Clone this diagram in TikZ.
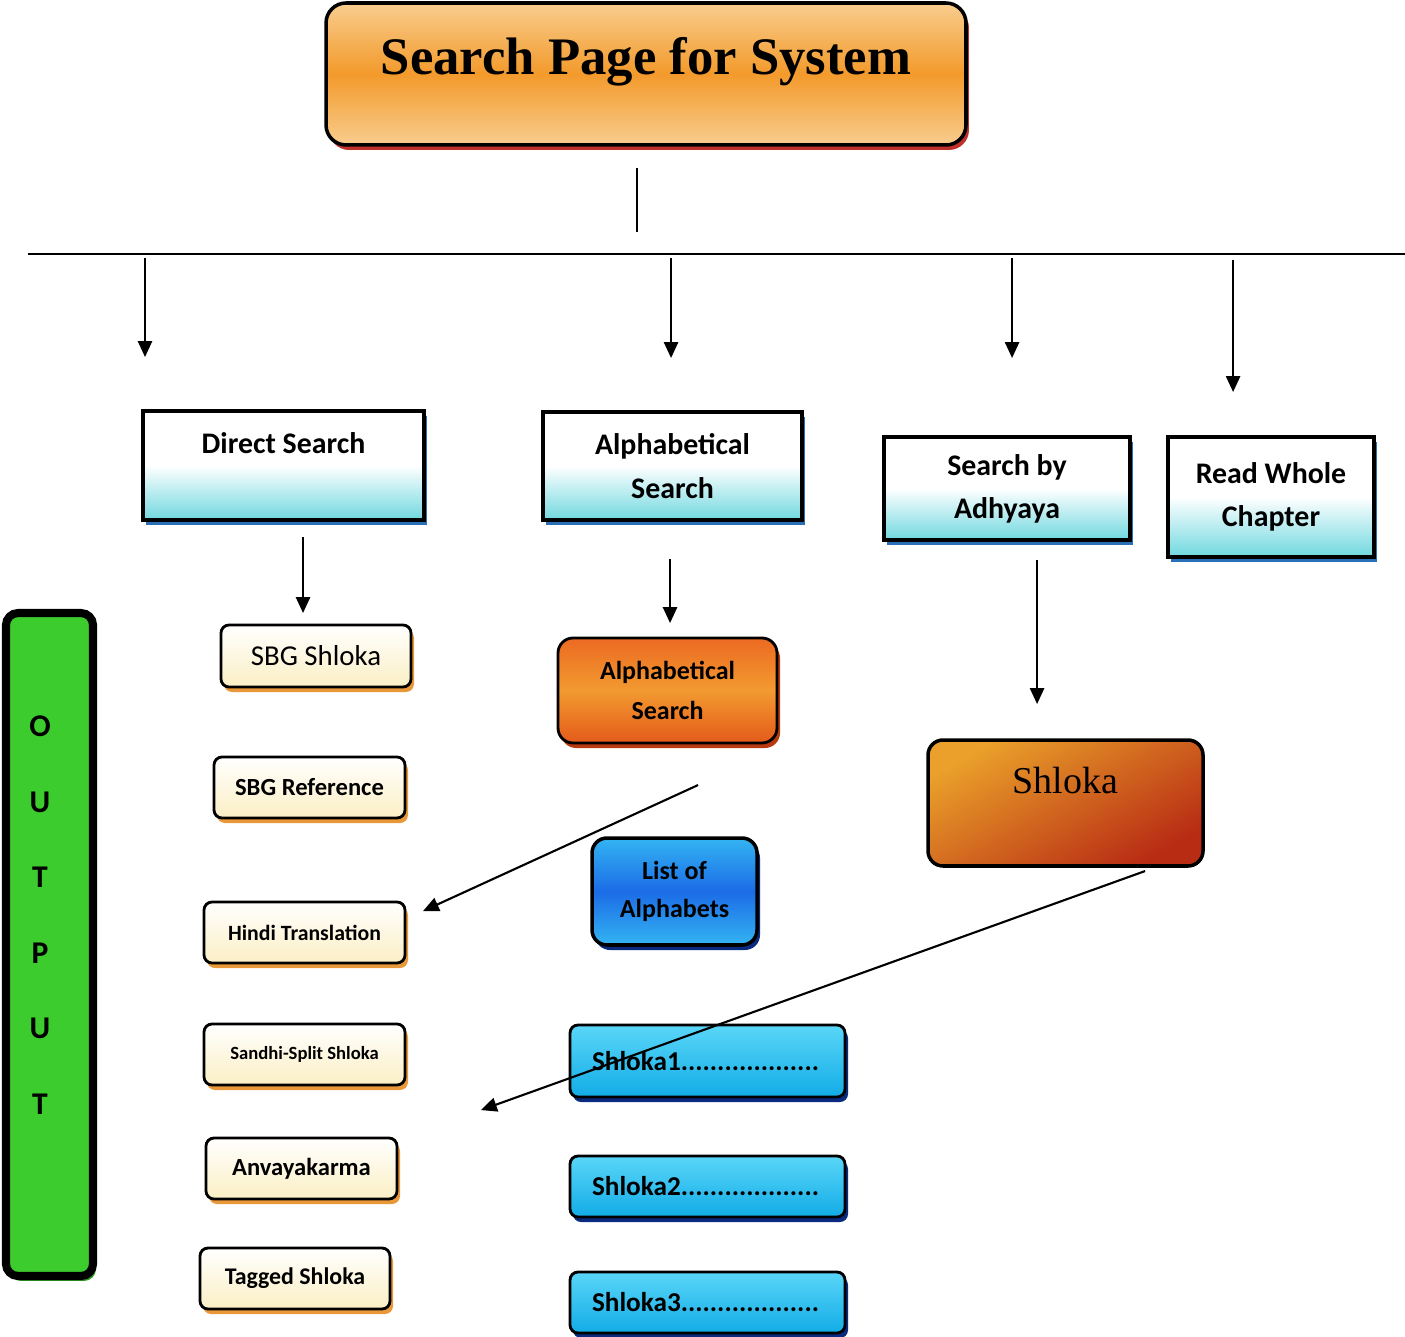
\documentclass[tikz,border=0pt]{standalone}
\usepackage{fontspec}
\setmainfont{Carlito}
\newfontfamily\serifttl{Liberation Serif}
\usetikzlibrary{arrows.meta,shadows}
\definecolor{ttllight}{HTML}{F8CD8E}
\definecolor{ttlmid}{HTML}{F39A2B}
\definecolor{ttlshadow}{HTML}{C0302A}
\definecolor{boxcyan}{HTML}{6FD8DF}
\definecolor{cyanshadow}{HTML}{2A70B8}
\definecolor{cream}{HTML}{FBEFC4}
\definecolor{creamshadow}{HTML}{E89838}
\definecolor{orgtop}{HTML}{EC6A22}
\definecolor{orgmid}{HTML}{F29A30}
\definecolor{orgbot}{HTML}{E45A1A}
\definecolor{orgshadow}{HTML}{B83A10}
\definecolor{bluetop}{HTML}{33B4F2}
\definecolor{bluemid}{HTML}{1C6CE6}
\definecolor{blueshadow}{HTML}{0A2A80}
\definecolor{slktop}{HTML}{EAA02A}
\definecolor{slkbot}{HTML}{B82C14}
\definecolor{skytop}{HTML}{5AD6F8}
\definecolor{skybot}{HTML}{12ACE6}
\definecolor{outgreen}{HTML}{3DCC2E}
\definecolor{outshadow}{HTML}{2A9A20}

\begin{document}
\begin{tikzpicture}[scale=0.1]
\tikzstyle{every node}+=[inner sep=0pt, outer sep=0pt, align=center]
\tikzstyle{arr}=[black, line width=0.6pt, -{Triangle[length=4.5pt,width=4pt]}]
\tikzstyle{shad}=[opacity=1, shadow xshift=0.3mm, shadow yshift=-0.5mm]
\tikzstyle{titlebox}=[draw=black, line width=1pt, rounded corners=2mm, top color=ttllight, bottom color=ttllight, middle color=ttlmid, drop shadow={shad, fill=ttlshadow}, font=\serifttl\bfseries\fontsize{15}{18}\selectfont]
\tikzstyle{searchbox}=[draw=black, line width=0.9pt, top color=white, bottom color=boxcyan, middle color=white, drop shadow={shad, fill=cyanshadow}, font=\bfseries\fontsize{8.5}{12.3}\selectfont]
\tikzstyle{outbox}=[draw=black, line width=0.8pt, rounded corners=0.8mm, top color=white, bottom color=cream, drop shadow={shad, fill=creamshadow}, font=\bfseries]
\tikzstyle{skybox}=[draw=black, line width=0.8pt, rounded corners=0.8mm, top color=skytop, bottom color=skybot, drop shadow={shad, fill=blueshadow}, minimum width=27.5mm, font=\bfseries\fontsize{7.75}{9}\selectfont, text width=23.1mm, align=left]
\useasboundingbox (0,0) rectangle (140.5,-133.6);
\node [titlebox, minimum width=64mm, minimum height=14.2mm, text height=7.2mm, text depth=7mm] (title) at (64.6,-7.4) {Search Page for System};
\coordinate (stemtop) at (63.7,-16.8);
\coordinate (stembot) at (63.7,-23.2);
\coordinate (busleft) at (2.8,-25.4);
\coordinate (busright) at (140.5,-25.4);
\draw [black, line width=0.6pt] (stemtop) -- (stembot);
\draw [black, line width=0.6pt] (busleft) -- (busright);
\node [searchbox, minimum width=28.1mm, minimum height=10.9mm, text height=3.2mm, text depth=5.7mm] (direct) at (28.35,-46.55) {Direct Search};
\node [searchbox, minimum width=25.9mm, minimum height=10.8mm] (alpha) at (67.25,-46.6) {Alphabetical\\Search};
\node [searchbox, minimum width=24.6mm, minimum height=10.3mm] (adhyaya) at (100.7,-48.85) {Search by\\Adhyaya};
\node [searchbox, minimum width=20.6mm, minimum height=12mm] (chapter) at (127.1,-49.7) {Read Whole\\Chapter};
\coordinate (d1) at (14.5,-25.8);
\coordinate (d2) at (14.5,-35.7);
\coordinate (a1) at (67.1,-25.8);
\coordinate (a2) at (67.1,-35.8);
\coordinate (s1) at (101.2,-25.8);
\coordinate (s2) at (101.2,-35.8);
\coordinate (r1) at (123.3,-26.0);
\coordinate (r2) at (123.3,-39.2);
\draw [arr] (d1) -- (d2);
\draw [arr] (a1) -- (a2);
\draw [arr] (s1) -- (s2);
\draw [arr] (r1) -- (r2);
\node [draw=black, line width=2.3pt, rounded corners=1.2mm, fill=outgreen, drop shadow={shad, fill=outshadow}, minimum width=8.7mm, minimum height=66.3mm] (output) at (4.95,-94.45) {};
\node [font=\bfseries\fontsize{9}{21.5}\selectfont] (outtext) at (4.0,-91.5) {O\\U\\T\\P\\U\\T};
\node [outbox, minimum width=19mm, minimum height=6.2mm, font=\fontsize{8.2}{10}\selectfont] (sbgshloka) at (31.6,-65.6) {SBG Shloka};
\node [outbox, minimum width=19.1mm, minimum height=6.1mm, font=\bfseries\fontsize{7}{9}\selectfont] (sbgref) at (30.95,-78.75) {SBG Reference};
\node [outbox, minimum width=20.1mm, minimum height=6.1mm, font=\bfseries\fontsize{6.2}{8}\selectfont] (hindi) at (30.45,-93.25) {Hindi Translation};
\node [outbox, minimum width=20.1mm, minimum height=6.1mm, font=\bfseries\fontsize{5.3}{7}\selectfont] (sandhi) at (30.45,-105.45) {Sandhi-Split Shloka};
\node [outbox, minimum width=19.1mm, minimum height=6.1mm, font=\bfseries\fontsize{7}{9}\selectfont] (anvaya) at (30.15,-116.85) {Anvayakarma};
\node [outbox, minimum width=19mm, minimum height=6.1mm, font=\bfseries\fontsize{6.8}{9}\selectfont] (tagged) at (29.5,-127.85) {Tagged Shloka};
\coordinate (ds1) at (30.3,-53.7);
\coordinate (ds2) at (30.3,-61.3);
\draw [arr] (ds1) -- (ds2);
\node [draw=black, line width=0.8pt, rounded corners=1.5mm, top color=orgtop, bottom color=orgbot, middle color=orgmid, drop shadow={shad, fill=orgshadow}, minimum width=21.9mm, minimum height=10.5mm, font=\bfseries\fontsize{7.4}{11.3}\selectfont] (alphaorg) at (66.75,-69.05) {Alphabetical\\Search};
\coordinate (as1) at (67.0,-55.9);
\coordinate (as2) at (67.0,-62.3);
\draw [arr] (as1) -- (as2);
\node [draw=black, line width=1pt, rounded corners=1.5mm, top color=bluetop, bottom color=bluetop, middle color=bluemid, drop shadow={shad, fill=blueshadow}, minimum width=16.5mm, minimum height=10.7mm, font=\bfseries\fontsize{7.4}{11}\selectfont] (listalpha) at (67.45,-89.15) {List of\\Alphabets};
\node [draw=black, line width=1pt, rounded corners=1.5mm, top color=slktop, bottom color=slkbot, shading angle=30, minimum width=27.5mm, minimum height=12.6mm, text height=5.3mm, text depth=7.3mm, font=\serifttl\fontsize{10.8}{13}\selectfont] (shlokabox) at (106.55,-80.3) {Shloka};
\coordinate (sh1) at (103.7,-56.0);
\coordinate (sh2) at (103.7,-70.4);
\draw [arr] (sh1) -- (sh2);
\node [skybox, minimum height=7.2mm] (shloka1) at (70.75,-106.1) {Shloka1...................};
\node [skybox, minimum height=6.1mm] (shloka2) at (70.75,-118.65) {Shloka2...................};
\node [skybox, minimum height=6.1mm] (shloka3) at (70.75,-130.25) {Shloka3...................};
\coordinate (al1) at (69.8,-78.5);
\coordinate (al2) at (42.3,-91.1);
\draw [arr] (al1) -- (al2);
\coordinate (sk1) at (114.5,-87.1);
\coordinate (sk2) at (48.1,-111.0);
\draw [arr] (sk1) -- (sk2);
\end{tikzpicture}
\end{document}
